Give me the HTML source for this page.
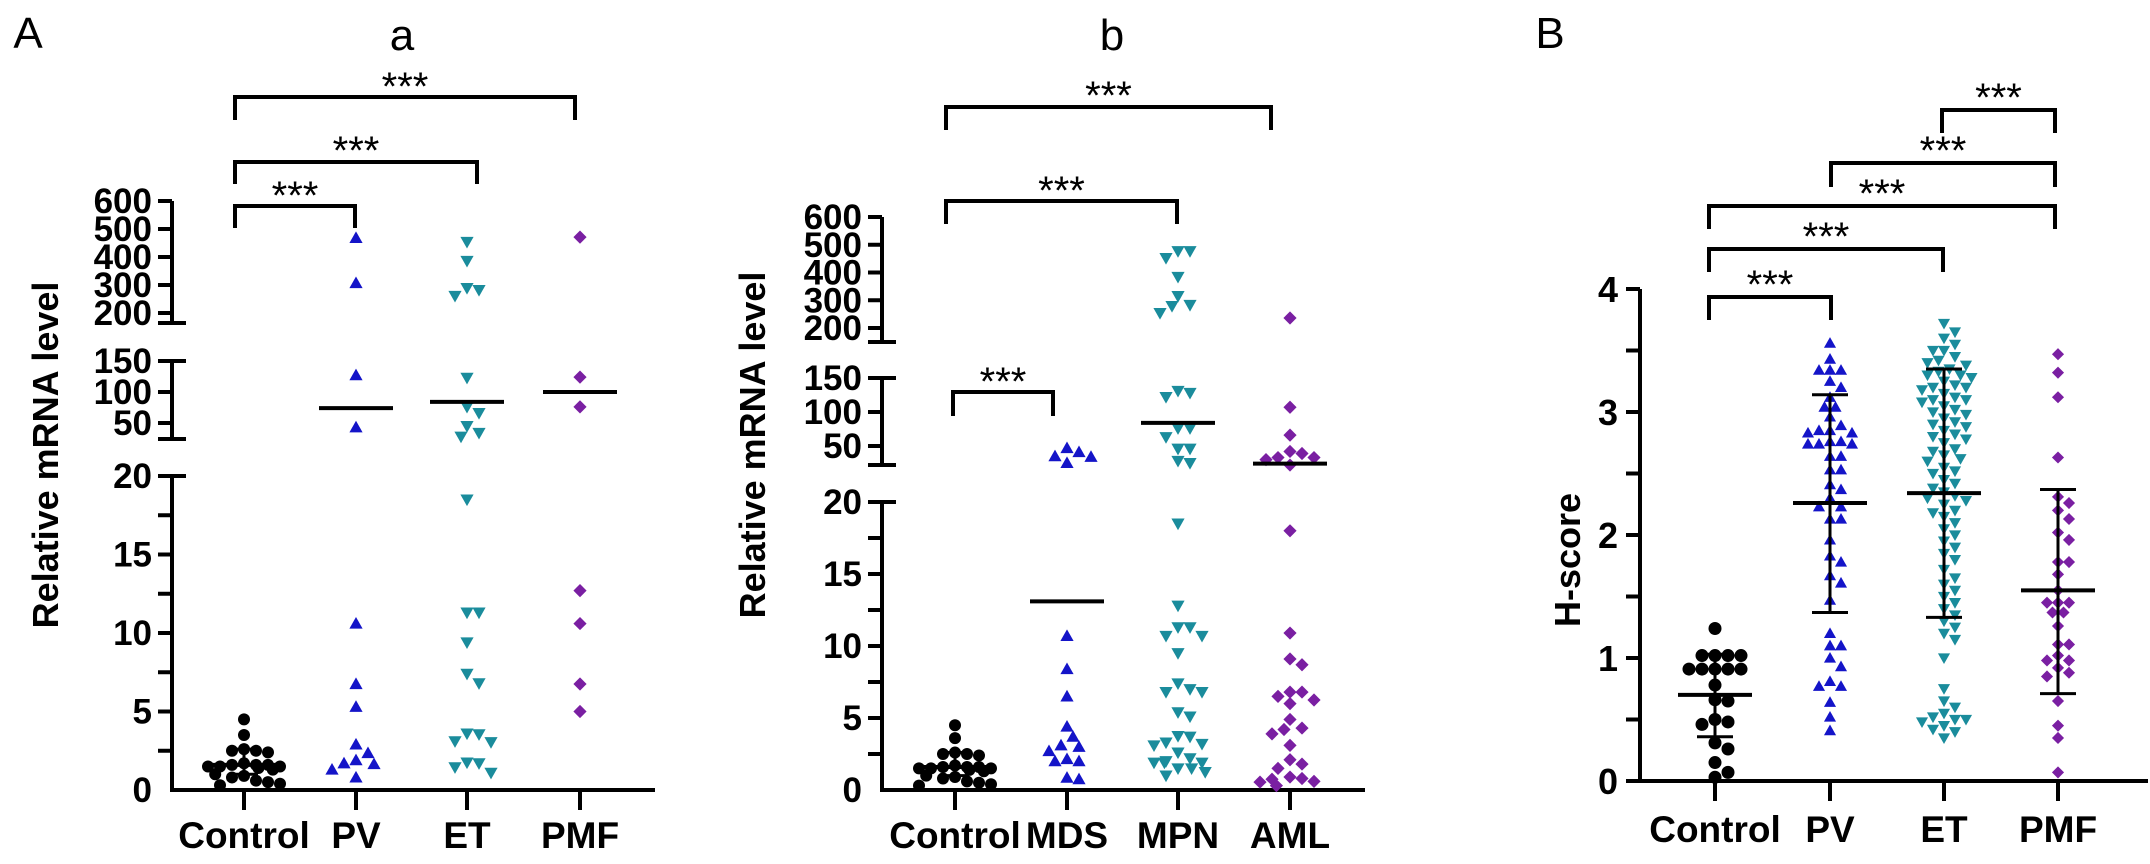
<!DOCTYPE html>
<html><head><meta charset="utf-8"><style>
html,body{margin:0;padding:0;background:#fff}
svg{display:block}
text{font-family:"Liberation Sans",Arial,sans-serif}
</style></head><body>
<svg id="chart" width="2150" height="864" viewBox="0 0 2150 864" xmlns="http://www.w3.org/2000/svg"></svg>
<script>
// ---------- DATA ----------
const catsA = ["Control","PV","ET","PMF"];
const ctrlA = [4.5,3.5,2.6,2.5,2.5,2.4,1.7,1.6,1.6,1.6,1.5,1.5,1.5,1.4,1.3,1.0,0.9,0.8,0.6,0.5,0.4,0.3];
const pvA = [468,307,127,43,10.6,6.75,5.3,2.9,2.35,1.9,1.7,1.65,1.3,0.8];
const etA = [454,386,289,282,261,123,76,66,45,34,28,18.5,11.3,11.3,9.4,7.4,6.8,3.6,3.55,3.1,3.05,1.75,1.7,1.45,1.1];
const pmfA = [471,124,76,12.7,10.6,6.75,5.0];
const centersA = [1.6,74,84,100];
const sdA = [1.0,2.6];

const catsB = ["Control","MDS","MPN","AML"];
const ctrlB = [4.5,3.6,2.6,2.5,2.5,2.4,1.7,1.6,1.6,1.6,1.5,1.5,1.5,1.4,1.3,1.0,0.9,0.8,0.6,0.5,0.4,0.3];
const mdsB = [47,41,35,34,25,10.7,8.4,6.5,4.4,3.7,3.1,3.0,2.7,2.15,2.0,2.0,0.85,0.75];
const mpnB = [477,477,452,384,315,283,279,254,131,128,122,76,76,63,46,46,28,25,18.5,12.8,11.3,11.3,10.7,10.7,9.5,7.4,7.0,6.8,6.8,5.4,5.1,3.75,3.7,3.3,3.2,3.1,2.6,2.2,2.0,1.9,1.9,1.9,1.5,1.5,1.25,1.0];
const amlB = [236,107,66,42,39,33,33,30,22,18.0,10.9,9.1,8.7,6.8,6.8,6.5,6.25,6.0,4.9,4.3,4.2,3.9,3.1,2.1,1.8,1.5,0.9,0.8,0.75,0.6,0.55,0.3];
const centersB = [1.6,13.1,84,24];
const sdB = [1.0,2.6];

const catsC = ["Control","PV","ET","PMF"];
const ctrlC = [1.24,1.02,1.02,1.02,1.02,0.91,0.91,0.91,0.91,0.91,0.78,0.65,0.66,0.46,0.48,0.5,0.31,0.26,0.15,0.07,0.03];
const pvC = [3.56,3.43,3.34,3.34,3.34,3.25,3.2,3.12,3.04,3.04,2.96,2.89,2.85,2.85,2.83,2.83,2.76,2.76,2.74,2.74,2.74,2.64,2.64,2.53,2.53,2.41,2.37,2.3,2.23,2.23,2.13,2.13,1.96,1.83,1.78,1.67,1.61,1.47,1.2,1.1,1.1,1.0,0.93,0.81,0.77,0.77,0.64,0.52,0.41];
const etC = [3.72,3.65,3.6,3.55,3.5,3.5,3.45,3.42,3.4,3.38,3.35,3.33,3.3,3.3,3.28,3.25,3.22,3.2,3.2,3.18,3.15,3.12,3.1,3.1,3.08,3.05,3.02,3.0,2.98,2.95,2.92,2.9,2.88,2.85,2.82,2.8,2.78,2.75,2.7,2.68,2.65,2.62,2.6,2.55,2.52,2.5,2.45,2.42,2.38,2.35,2.32,2.3,2.28,2.25,2.2,2.18,2.15,2.1,2.05,2.0,1.95,1.9,1.85,1.8,1.72,1.65,1.6,1.55,1.5,1.45,1.4,1.35,1.3,1.25,1.2,1.15,1.0,0.75,0.65,0.6,0.55,0.52,0.5,0.5,0.48,0.45,0.42,0.4,0.35];
const pmfC = [3.47,3.32,3.12,2.63,2.31,2.26,2.2,2.13,2.02,1.96,1.78,1.78,1.68,1.55,1.45,1.45,1.45,1.37,1.37,1.26,1.11,1.11,1.02,0.98,0.98,0.92,0.88,0.85,0.65,0.45,0.35,0.07];
const meansC = [0.70,2.26,2.34,1.55];
const sdLoC = [0.36,1.37,1.33,0.71];
const sdHiC = [1.03,3.14,3.35,2.37];
const ticksC = [0,1,2,3,4];

// ---------- helpers ----------
const NS="http://www.w3.org/2000/svg";
const svg=document.getElementById('chart');
function mk(tag,attrs,parent){const e=document.createElementNS(NS,tag);for(const k in attrs)e.setAttribute(k,attrs[k]);(parent||svg).appendChild(e);return e;}
function line(x1,y1,x2,y2,w,name,g){const e=mk('line',{x1:x1,y1:y1,x2:x2,y2:y2,stroke:'#000','stroke-width':w||4},g);

return e;}
function txt(x,y,s,size,anchor,name,weight,g){const e=mk('text',{x:x,y:y,'font-size':size,'text-anchor':anchor||'middle','font-weight':weight||'bold',fill:'#000'},g);e.textContent=s;

return e;}
function marker(shape,x,y,s,color,g){let e;
 if(shape==='circle')e=mk('circle',{cx:x,cy:y,r:s/2,fill:color},g);
 else if(shape==='up')e=mk('polygon',{points:`${x},${y-s*0.55} ${x-s*0.55},${y+s*0.42} ${x+s*0.55},${y+s*0.42}`,fill:color},g);
 else if(shape==='down')e=mk('polygon',{points:`${x},${y+s*0.55} ${x-s*0.55},${y-s*0.42} ${x+s*0.55},${y-s*0.42}`,fill:color},g);
 else e=mk('polygon',{points:`${x},${y-s*0.55} ${x+s*0.55},${y} ${x},${y+s*0.55} ${x-s*0.55},${y}`,fill:color},g);
 
 return e;}
function swarm(vals,cx,yf,size,shape,color,maxW,g){
 const pts=vals.map(v=>yf(v)).sort((a,b)=>a-b);const placed=[];const step=size*0.5;
 pts.forEach((y,idx)=>{let best=null;
  for(let k=0;k<60;k++){const off=(k===0?0:(k%2?1:-1)*Math.ceil(k/2)*step);if(Math.abs(off)>maxW)break;
   const x=cx+off;if(!placed.some(p=>Math.hypot(p[0]-x,p[1]-y)<size*0.95)){best=x;break;}}
  if(best===null)best=cx+((idx%5)-2)*maxW/2.5;
  placed.push([best,y]);marker(shape,best,y,size,color,g);});}
function bracket(x1,x2,y,legs,sy,name){const g=mk('g',{});
 mk('path',{d:`M${x1},${legs} L${x1},${y} L${x2},${y} L${x2},${legs}`,fill:'none',stroke:'#000','stroke-width':4},g);
 txt((x1+x2)/2,sy+22,'***',40,'middle','significance-stars','normal',g);}

const BLUE='#1414c8',TEAL='#1a8c9c',PURP='#7a1fa2';

// ---------- broken-axis panels ----------
function brokenPanel(cfg){
 const g=mk('g',{});
 const ax=cfg.ax;
 const yf=v=>{if(v<=cfg.lowMax)return cfg.zero-v*cfg.lowK;
  if(v<=cfg.midMax)return cfg.midTop+(150-v)*cfg.midK;
  return cfg.topY+(600-v)*cfg.topK;};
 line(ax,cfg.zero,ax,cfg.zero-20*cfg.lowK,4,'y-axis-lower',g);
 line(ax-14,cfg.zero-20*cfg.lowK,ax+14,cfg.zero-20*cfg.lowK,4,'axis-break-cap',g);
 for(let v=2.5;v<20;v+=2.5)line(ax-14,cfg.zero-v*cfg.lowK,ax,cfg.zero-v*cfg.lowK,4,'y-tick',g);
 [0,5,10,15,20].forEach(v=>txt(ax-20,cfg.zero-v*cfg.lowK+12,String(v),35,'end','y-tick-label','bold',g));
 line(ax,cfg.midTop,ax,cfg.midBot,4,'y-axis-middle',g);
 line(ax-14,cfg.midTop,ax+14,cfg.midTop,4,'axis-break-cap',g);
 line(ax-14,cfg.midBot,ax+14,cfg.midBot,4,'axis-break-cap',g);
 [100,50].forEach(v=>line(ax-14,yf(v),ax,yf(v),4,'y-tick',g));
 [150,100,50].forEach(v=>txt(ax-20,yf(v)+12,String(v),35,'end','y-tick-label','bold',g));
 line(ax,cfg.topY,ax,cfg.topBot,4,'y-axis-upper',g);
 line(ax-14,cfg.topBot,ax+14,cfg.topBot,4,'axis-break-cap',g);
 [600,500,400,300,200].forEach(v=>{line(ax-14,yf(v),ax,yf(v),4,'y-tick',g);txt(ax-20,yf(v)+12,String(v),35,'end','y-tick-label','bold',g);});
 line(ax-2,cfg.zero,cfg.xEnd,cfg.zero,4,'x-axis',g);
 cfg.cats.forEach((c,i)=>{line(cfg.cx[i],cfg.zero,cfg.cx[i],cfg.zero+20,4,'x-tick',g);txt(cfg.cx[i],848,c,37,'middle','x-tick-label','bold',g);});
 const t=txt(0,0,'Relative mRNA level',36,'middle','y-axis-title','bold',g);t.setAttribute('transform',`translate(${cfg.titleX},${cfg.titleY}) rotate(-90)`);
 const shapes=['circle','up','down','diamond'],cols=['#000',BLUE,TEAL,PURP];
 cfg.series.forEach((s,i)=>swarm(s,cfg.cx[i],yf,i===0?12:12,shapes[i],cols[i],i===0?36:34,g));
 cfg.centers.forEach((m,i)=>{const w=37;line(cfg.cx[i]-w,yf(m),cfg.cx[i]+w,yf(m),4,'median-line',g);});
 const c0=cfg.cx[0];line(c0,yf(cfg.sd[0]),c0,yf(cfg.sd[1]),3,'sd-bar',g);
 line(c0-14,yf(cfg.sd[1]),c0+14,yf(cfg.sd[1]),3,'sd-cap',g);
 line(c0-14,yf(cfg.sd[0]),c0+14,yf(cfg.sd[0]),3,'sd-cap',g);
}
brokenPanel({name:'panel-a',ax:172,zero:790,lowMax:20.5,lowK:15.7,midMax:160,midTop:361,midBot:439,midK:0.62,topY:201,topBot:323,topK:0.28,
 xEnd:655,cx:[244,356,467,580],cats:catsA,series:[ctrlA,pvA,etA,pmfA],centers:centersA,sd:sdA,titleX:58,titleY:455});
brokenPanel({name:'panel-b',ax:882,zero:790,lowMax:20.5,lowK:14.4,midMax:160,midTop:378,midBot:465,midK:0.68,topY:217,topBot:342,topK:0.2775,
 xEnd:1365,cx:[955,1067,1178,1290],cats:catsB,series:[ctrlB,mdsB,mpnB,amlB],centers:centersB,sd:sdB,titleX:765,titleY:445});

// ---------- panel B (H-score) ----------
(function(){
 const g=mk('g',{});
 const ax=1640,zero=781,k=123,cx=[1715,1830,1944,2058];
 const yf=v=>zero-v*k;
 line(ax,zero,ax,yf(4),4,'y-axis',g);
 for(let v=0;v<=4;v+=0.5)line(ax-14,yf(v),ax,yf(v),4,'y-tick',g);
 ticksC.forEach(v=>txt(ax-22,yf(v)+13,String(v),36,'end','y-tick-label','bold',g));
 line(ax-2,zero,2148,zero,4,'x-axis',g);
 catsC.forEach((c,i)=>{line(cx[i],zero,cx[i],zero+20,4,'x-tick',g);txt(cx[i],842,c,37,'middle','x-tick-label','bold',g);});
 const t=txt(0,0,'H-score',36,'middle','y-axis-title','bold',g);t.setAttribute('transform',`translate(1580,560) rotate(-90)`);
 const shapes=['circle','up','down','diamond'],cols=['#000',BLUE,TEAL,PURP];
 [ctrlC,pvC,etC,pmfC].forEach((s,i)=>swarm(s,cx[i],yf,i===0?13:11,shapes[i],cols[i],i===2?44:38,g));
 meansC.forEach((m,i)=>{line(cx[i]-37,yf(m),cx[i]+37,yf(m),4,'mean-line',g);
  line(cx[i],yf(sdLoC[i]),cx[i],yf(sdHiC[i]),3,'sd-bar',g);
  line(cx[i]-18,yf(sdLoC[i]),cx[i]+18,yf(sdLoC[i]),3,'sd-cap',g);
  line(cx[i]-18,yf(sdHiC[i]),cx[i]+18,yf(sdHiC[i]),3,'sd-cap',g);});
})();

// ---------- brackets & titles ----------
bracket(235,575,97,120,78,'bracket-control-pmf');
bracket(235,477,162,184,142,'bracket-control-et');
bracket(235,355,206,228,187,'bracket-control-pv');
bracket(946,1271,107,130,87,'bracket-control-aml');
bracket(946,1177,201,224,182,'bracket-control-mpn');
bracket(953,1053,392,416,373,'bracket-control-mds');
bracket(1942,2055,110,133,89,'bracket-et-pmf');
bracket(1831,2055,163,187,142,'bracket-pv-pmf');
bracket(1709,2055,206,229,185,'bracket-control-pmf-h');
bracket(1709,1943,249,272,228,'bracket-control-et-h');
bracket(1709,1831,297,320,276,'bracket-control-pv-h');
txt(28,48,'A',44,'middle','panel-label-A','normal');
txt(402,50,'a',44,'middle','subpanel-title-a','normal');
txt(1112,50,'b',44,'middle','subpanel-title-b','normal');
txt(1550,48,'B',44,'middle','panel-label-B','normal');
</script>
</body></html>
